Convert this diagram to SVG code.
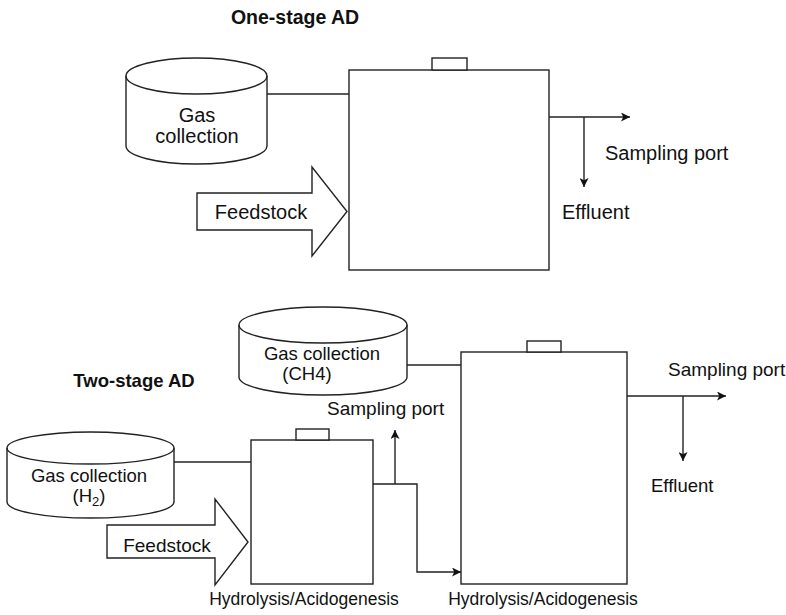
<svg xmlns="http://www.w3.org/2000/svg" width="786" height="615" viewBox="0 0 786 615">
<style>
.s{fill:#fff;stroke:#222;stroke-width:1.4}
.c{fill:none;stroke:#222;stroke-width:1.4}
.t{font-family:"Liberation Sans",Arial,Helvetica,sans-serif;fill:#111}
.b{font-weight:bold}
</style>
<defs>
<marker id="arr" viewBox="0 0 10 10" refX="10" refY="5" markerWidth="9" markerHeight="9" markerUnits="userSpaceOnUse" orient="auto">
<path d="M0,0 L10,5 L0,10 L2.5,5 Z" fill="#111"/>
</marker>
</defs>
<rect width="786" height="615" fill="#fff"/>

<text class="t b" x="295" y="24" font-size="19.5" text-anchor="middle">One-stage AD</text>
<text class="t b" x="134" y="387" font-size="18.5" text-anchor="middle">Two-stage AD</text>

<g id="connectors">
<path class="c" d="M267,94 H349"/>
<path class="c" d="M549,117 H630" marker-end="url(#arr)"/>
<path class="c" d="M584,117 V187" marker-end="url(#arr)"/>
<path class="c" d="M407,365 H461"/>
<path class="c" d="M627,396 H726" marker-end="url(#arr)"/>
<path class="c" d="M683,396 V461" marker-end="url(#arr)"/>
<path class="c" d="M174,462 H251"/>
<path class="c" d="M373,484 H417 V572 H461" marker-end="url(#arr)"/>
<path class="c" d="M395,484 V430" marker-end="url(#arr)"/>
</g>

<g id="gas1">
<path class="s" d="M126,76 A70.5,18 0 0 1 267,76 V146 A70.5,18 0 0 1 126,146 Z"/>
<path class="c" d="M126,76 A70.5,18 0 0 0 267,76"/>
<text class="t" x="197" y="122" font-size="20" text-anchor="middle">Gas</text>
<text class="t" x="197" y="143" font-size="20" text-anchor="middle">collection</text>
</g>

<g id="tank1">
<rect class="s" x="349" y="70" width="200" height="200"/>
<rect class="s" x="432" y="58" width="35" height="12"/>
</g>

<g id="feed1">
<polygon class="s" points="197,193 312,193 312,167 347,211.5 312,256 312,230 197,230"/>
<text class="t" x="261" y="219" font-size="20" text-anchor="middle">Feedstock</text>
</g>

<g id="labels1">
<text class="t" x="605" y="160" font-size="20">Sampling port</text>
<text class="t" x="562" y="219" font-size="20">Effluent</text>
</g>

<g id="gasCH4">
<path class="s" d="M239,325 A84,18 0 0 1 407,325 V377 A84,18 0 0 1 239,377 Z"/>
<path class="c" d="M239,325 A84,18 0 0 0 407,325"/>
<text class="t" x="322" y="360" font-size="18.5" text-anchor="middle">Gas collection</text>
<text class="t" x="307" y="380" font-size="18.5" text-anchor="middle">(CH4)</text>
</g>

<g id="gasH2">
<path class="s" d="M7,448 A83.5,16 0 0 1 174,448 V502 A83.5,16 0 0 1 7,502 Z"/>
<path class="c" d="M7,448 A83.5,16 0 0 0 174,448"/>
<text class="t" x="89" y="482" font-size="18.5" text-anchor="middle">Gas collection</text>
<text class="t" x="89" y="502" font-size="18.5" text-anchor="middle">(H<tspan font-size="13" dy="4">2</tspan><tspan dy="-4">)</tspan></text>
</g>

<g id="tankA">
<rect class="s" x="251" y="440" width="122" height="144"/>
<rect class="s" x="296" y="429" width="33" height="11"/>
<text class="t" x="304" y="605" font-size="17.5" text-anchor="middle">Hydrolysis/Acidogenesis</text>
</g>

<g id="tankB">
<rect class="s" x="461" y="352" width="166" height="232"/>
<rect class="s" x="527" y="341" width="34" height="11"/>
<text class="t" x="543" y="605" font-size="17.5" text-anchor="middle">Hydrolysis/Acidogenesis</text>
</g>

<g id="feed2">
<polygon class="s" points="107,525 215,525 215,499 248,542 215,585 215,558 107,558"/>
<text class="t" x="167" y="552" font-size="19" text-anchor="middle">Feedstock</text>
</g>

<g id="labels2">
<text class="t" x="327" y="415" font-size="19">Sampling port</text>
<text class="t" x="668" y="376" font-size="19">Sampling port</text>
<text class="t" x="651" y="492" font-size="18.5">Effluent</text>
</g>
</svg>
